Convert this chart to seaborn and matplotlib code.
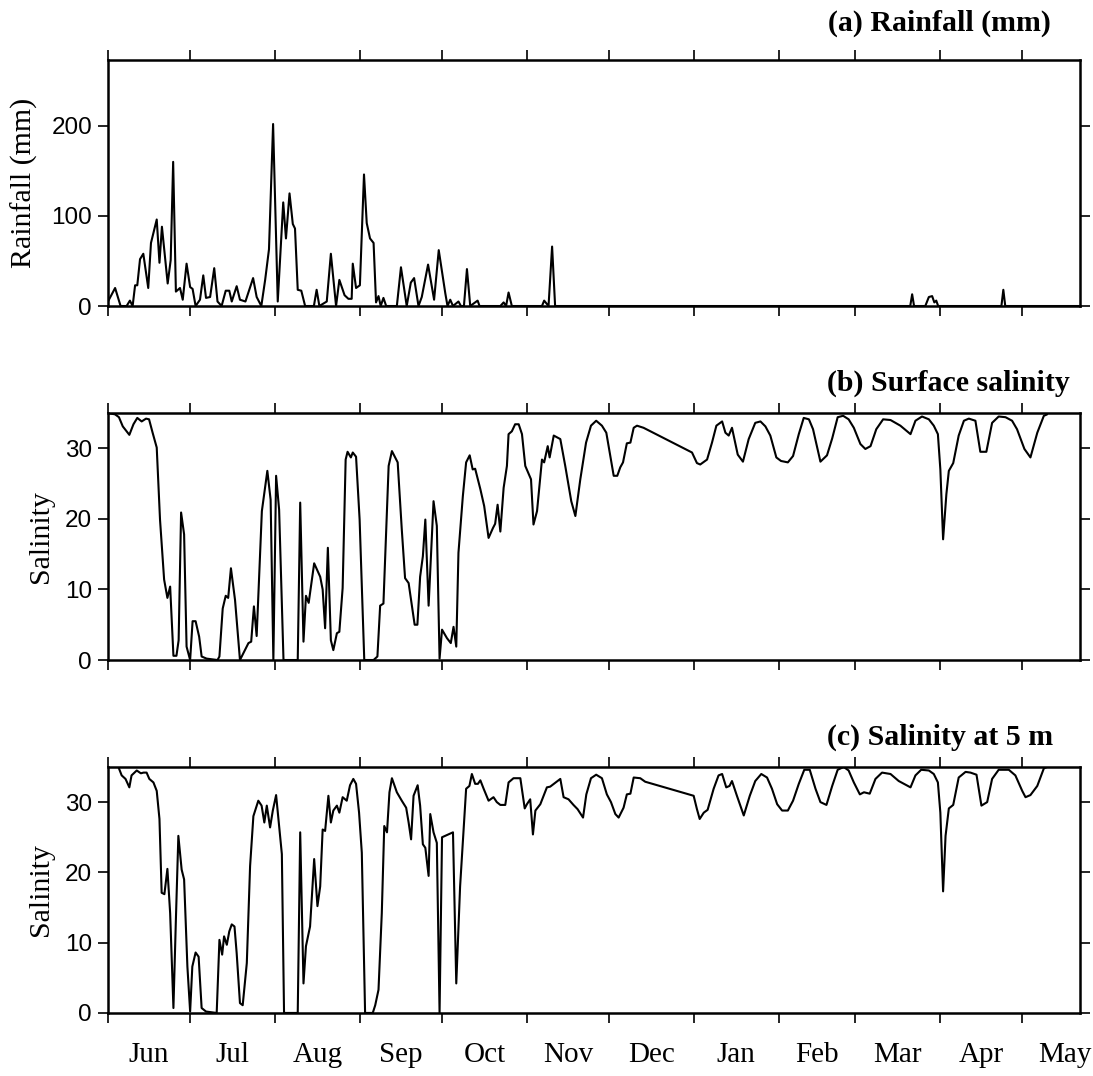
import numpy as np
import pandas as pd
import matplotlib
matplotlib.use("Agg")
import matplotlib.pyplot as plt
import seaborn as sns

# month axis (days counted from 1 June)
months = ["Jun", "Jul", "Aug", "Sep", "Oct", "Nov", "Dec", "Jan", "Feb", "Mar", "Apr", "May"]
month_start = [0, 30, 61, 92, 122, 153, 183, 214, 245, 273, 304, 334, 365]

# (a) daily rainfall
rain_day = [0, 2.6, 4.6, 6.8, 8, 9, 9.9, 10.7, 11.7, 12.9, 14.7, 15.7, 17.8, 18.8, 19.7, 21.8, 22.9,
            23.8, 24.8, 26.3, 27.3, 28.7, 30, 30.9, 32, 33.6, 34.8, 35.8, 37.3, 38.8, 40, 41.5, 43,
            44.3, 45.2, 47, 48.2, 50.2, 53, 54.3, 56, 57.4, 58.8, 60.3, 62, 64, 65, 66.3, 67.5, 68.3,
            69.3, 70.6, 72, 75.2, 76.2, 77.2, 79.9, 81.4, 83.3, 84.5, 86.4, 87.8, 89, 89.4, 90.6, 92,
            93.5, 94.5, 95.7, 97, 97.9, 98.8, 99.6, 100.6, 101.6, 105.5, 107, 109.1, 110.6, 111.8,
            113.4, 114.6, 116.9, 119.1, 120.8, 123.2, 124, 125, 126, 128, 128.9, 130, 131.1, 132.3,
            135, 135.7, 143.3, 144.5, 145.4, 146.3, 147.5, 158.5, 159.3, 160.9, 162.2, 163.3, 293,
            293.7, 294.4, 298.5, 299.8, 301, 301.8, 302.5, 303.2, 326.3, 327, 327.7, 355]
rain_mm = [5, 20, 0, 0, 6, 0, 23, 23, 52, 58, 20, 70, 96, 48, 88, 25, 51,
           160, 16, 20, 7, 47, 21, 19, 0, 7, 34, 9, 10, 42, 5, 0, 17,
           17, 5, 22, 7, 5, 31, 10, 0, 29, 63, 202, 5, 115, 75, 125, 91, 86,
           18, 17, 0, 0, 18, 0, 5, 58, 0, 29, 12, 8, 8, 47, 20, 23,
           146, 92, 75, 70, 4, 11, 0, 9, 0, 0, 43, 0, 26, 31,
           0, 10, 46, 7, 62, 14, 0, 7, 0, 5, 0, 0, 41, 0,
           6, 0, 0, 4, 0, 15, 0, 0, 6, 0, 66, 0, 0,
           13, 0, 0, 10, 11, 4, 6, 0, 0, 18, 0, 0]

# (b) surface salinity
surf_day = [0, 2.6, 4, 5.4, 7.8, 9.3, 10.7, 12.3, 13.9, 15, 16.3, 17.8, 19, 20.5, 21.7, 22.7, 23.9,
            25, 25.8, 26.7, 27.8, 28.7, 30, 30.9, 32, 33.3, 34.2, 36, 40, 40.7, 41.9, 43, 43.9,
            44.9, 46.4, 48.2, 51.3, 52.3, 53.3, 54.3, 56.2, 58.2, 59.4, 60.4, 61.4, 62.5, 64.1,
            69.3, 70.2, 71.4, 72.3, 73.3, 75.3, 77.5, 78.4, 79.3, 80.3, 81.4, 82.3, 83.6, 84.5,
            85.7, 86.8, 87.5, 88.7, 89.4, 90.6, 91.9, 93.6, 97, 98.4, 99.4, 100.6, 102.5, 103.7,
            105.8, 107.3, 108.5, 109.8, 112, 113, 114, 115, 115.9, 117.1, 118.9, 120.1, 121.1,
            122, 123.8, 125.2, 126.2, 127.2, 128, 129.6, 130.8, 132.1, 133.2, 134.1, 136, 137.4,
            139, 140.6, 141.4, 142.3, 143.3, 144.5, 145.7, 146.3, 147.5, 148.7, 150, 151.2, 152.4,
            154.5, 155.4, 156.7, 158.5, 159.3, 160.6, 161.3, 162.8, 165.2, 167, 169.2, 170.7,
            172.5, 174.6, 176.4, 178.3, 180.4, 182, 183.7, 184.7, 186, 187.1, 188.1, 189.5,
            190.8, 192, 193.2, 195.6, 213.3, 215.1, 216.3, 218.8, 220.6, 222.2, 224.3, 225.5,
            226.7, 227.9, 230, 231.9, 234, 236.4, 238.3, 240.1, 241.9, 244.1, 245.8, 248.3,
            250.2, 252.3, 254.1, 256, 257.5, 260.2, 262.6, 264.5, 266.5, 268.5, 270.5, 272.4,
            274.8, 276.6, 278.5, 280.6, 283.1, 285.8, 289.4, 293.1, 294.9, 297.3, 299.8, 301.6,
            303.1, 304, 305, 306.2, 307.1, 308.7, 310.7, 312.6, 314.4, 316.8, 318.6, 320.8,
            322.9, 325.3, 327.8, 330.2, 332, 334.7, 336.9, 339.4, 341.8, 343]
surf_sal = [35, 34.8, 34.4, 33.1, 31.9, 33.4, 34.3, 33.8, 34.2, 34.1, 32.2, 30.1, 19.9, 11.4, 8.8, 10.4, 0.6,
            0.6, 2.8, 20.9, 17.8, 1.9, 0, 5.5, 5.5, 3.3, 0.5, 0.2, 0, 0.5, 7.3, 9.1, 8.8,
            13, 8.5, 0, 2.4, 2.6, 7.6, 3.4, 21.1, 26.8, 22.7, 0, 26.1, 21.3, 0,
            0, 22.3, 2.6, 9.1, 8.1, 13.7, 11.8, 10, 4.5, 15.9, 2.8, 1.4, 3.8, 4,
            10.2, 28.4, 29.5, 28.7, 29.4, 28.8, 19.9, 0, 0, 0.5, 7.7, 8, 27.5, 29.6,
            28, 18.5, 11.6, 10.9, 5, 5, 11.8, 14.7, 19.9, 7.7, 22.5, 19, 0.2,
            4.3, 3.1, 2.4, 4.7, 1.9, 15.2, 23.2, 28, 29, 27, 27.1, 24.2, 21.8,
            17.3, 18.7, 19.3, 22, 18.2, 24.4, 27.5, 32, 32.4, 33.4, 33.4, 32, 27.5,
            25.6, 19.2, 21.1, 28.4, 28, 30.3, 28.7, 31.8, 31.3, 27.5, 22.5, 20.4,
            25.6, 30.8, 33.2, 33.9, 33.2, 32.2, 28.4, 26.1, 26.1, 27.3, 28, 30.7,
            30.8, 32.9, 33.2, 32.9, 29.4, 27.9, 27.7, 28.4, 30.8, 33.2, 33.8, 32.2,
            31.8, 32.9, 29.1, 28.1, 31.3, 33.6, 33.8, 33.1, 31.8, 28.7, 28.2, 28,
            28.9, 32, 34.3, 34.1, 32.7, 28.1, 29, 31.4, 34.4, 34.6, 34.1, 32.9,
            30.6, 29.9, 30.3, 32.7, 34.1, 34, 33.2, 32, 33.9, 34.5, 34.1, 33.2,
            32, 27, 17.1, 23.5, 26.8, 27.9, 31.8, 33.9, 34.2, 33.9, 29.5, 29.5,
            33.6, 34.5, 34.4, 33.9, 32.7, 29.9, 28.7, 32.2, 34.6, 34.8]

# (c) salinity at 5 m
deep_day = [0, 3.8, 5, 6.4, 7.8, 8.6, 10.5, 12, 13, 14.1, 15.1, 16.6, 17.8, 18.8, 19.6, 20.6, 21.7,
            22.7, 23.9, 24.8, 25.7, 26.9, 27.8, 29, 30, 30.8, 32, 33.1, 34.2, 35.8, 39.7, 40.7,
            41.7, 42.4, 43.4, 44.3, 45.2, 46.2, 47, 48.2, 49.2, 50.7, 51.9, 53.1, 54.9, 56.1,
            57.1, 58, 59.2, 60.2, 61.4, 63.5, 64.3, 69.3, 70.2, 71.4, 72.3, 73.8, 75.3, 76.5,
            77.5, 78.4, 79.3, 80.5, 81.4, 82.3, 83.6, 84.5, 85.7, 87.2, 88.4, 89.6, 90.6, 91.7,
            92.7, 93.9, 96.7, 97.6, 98.8, 100, 100.9, 101.9, 102.8, 103.7, 105.5, 107.3, 108.9,
            109.8, 110.7, 111.6, 113.1, 114, 115, 115.9, 117.1, 117.7, 118.9, 120.1, 121.1, 122,
            126, 127.2, 128.6, 129.9, 130.8, 132, 132.9, 134.1, 135.1, 136, 137.2, 139, 140.8,
            142, 143.3, 145.1, 146.3, 148.1, 150.6, 152.2, 153, 154.2, 155.2, 156.1, 157.9,
            160.3, 161.5, 165.2, 166.4, 168.2, 170, 171.5, 173.5, 174.7, 176.4, 178.3, 180.4,
            182.2, 183.7, 185.3, 186.5, 188.3, 189.5, 190.8, 192, 194.4, 196.2, 213.9, 215.1,
            216.1, 217.6, 219, 221.2, 223, 224.3, 225.8, 227, 227.9, 229.7, 232.2, 234.4, 236.4,
            238.6, 240.7, 242.5, 244.4, 246.2, 248.3, 250.2, 252.3, 254.3, 256.3, 258.4, 260.2,
            262.4, 264.5, 266.5, 268.7, 270.5, 272.4, 274.6, 276.1, 278.2, 280.3, 282.7, 285.8,
            288.8, 293.1, 294.9, 297, 299.8, 301.6, 303.1, 304, 305, 305.9, 307.1, 308.7, 310.7,
            313.2, 315, 317.2, 319, 321.1, 322.9, 325.3, 329, 331.4, 333.9, 335.1, 336.9, 339.4,
            341.8, 343]
deep_sal = [35, 35, 33.8, 33.3, 32.1, 33.8, 34.5, 34.1, 34.2, 34.2, 33.3, 32.8, 31.6, 27.6, 17.1, 16.9, 20.5,
            14.2, 0.7, 13.3, 25.2, 20.4, 19, 6.6, 0.2, 6.6, 8.6, 8, 0.7, 0.2, 0, 10.4,
            8.3, 10.9, 9.7, 11.6, 12.6, 12.3, 8.5, 1.4, 1.1, 7.1, 20.9, 28, 30.2, 29.5,
            27.1, 29.5, 26.4, 28.8, 31, 22.6, 0, 0, 25.7, 4.2, 9.5, 12.3, 21.9, 15.2,
            18, 26.1, 25.9, 30.9, 27.1, 28.8, 29.5, 28.5, 30.7, 30.2, 32.4, 33.3, 32.6, 28.5,
            22.8, 0, 0, 1.1, 3.3, 14.2, 26.6, 25.7, 31.4, 33.4, 31.4, 30.2, 29.2,
            27.1, 24.7, 30.9, 32.4, 29.5, 24, 23.5, 19.5, 28.3, 25.7, 24.2, 0, 25,
            25.7, 4.2, 18, 26.1, 31.9, 32.3, 34, 32.6, 32.6, 33.1, 31.9, 30.2, 30.7,
            30, 29.6, 29.6, 32.8, 33.4, 33.4, 29.1, 29.7, 30.4, 25.4, 28.8, 29.7,
            32.1, 32.2, 33.3, 30.7, 30.4, 29.6, 29, 27.8, 31.1, 33.4, 33.9, 33.4,
            31.1, 30, 28.3, 27.8, 29.2, 31.1, 31.2, 33.5, 33.4, 32.9, 30.9, 29,
            27.6, 28.5, 28.9, 31.9, 33.8, 34, 32.1, 32.3, 33, 30.9, 28.1, 30.9, 33,
            34, 33.5, 31.9, 29.7, 28.8, 28.8, 30.2, 32.6, 34.6, 34.6, 31.9, 30,
            29.6, 32.3, 34.6, 35, 34.5, 32.8, 31.1, 31.4, 31.2, 33.3, 34.2, 34,
            33, 32.1, 33.8, 34.6, 34.5, 34, 32.8, 28.5, 17.3, 25.2, 29.1, 29.6, 33.5,
            34.3, 34.2, 33.9, 29.5, 30, 33.3, 34.6, 34.6, 33.8, 31.6, 30.7, 31, 32.3,
            34.8, 35]

panels = [
    (rain_day, rain_mm, "Rainfall (mm)", "(a) Rainfall (mm)", [0, 100, 200], 273),
    (surf_day, surf_sal, "Salinity", "(b) Surface salinity", [0, 10, 20, 30], 35),
    (deep_day, deep_sal, "Salinity", "(c) Salinity at 5 m", [0, 10, 20, 30], 35),
]

sns.set_style("ticks")
plt.rcParams['font.family'] = ['Liberation Sans', 'DejaVu Sans']
plt.rcParams.update({"text.color": "black", "axes.labelcolor": "black",
                     "xtick.color": "black", "ytick.color": "black",
                     "axes.edgecolor": "black"})
serif = ['Liberation Serif', 'DejaVu Serif']

fig = plt.figure(figsize=(10.93, 10.76), dpi=100)
boxes = [(0.0988, 0.7156, 0.8893, 0.2286),
         (0.0988, 0.3866, 0.8893, 0.2296),
         (0.0988, 0.0586, 0.8893, 0.2286)]
title_pos = [(1051, 23), (1070, 383), (1053, 737)]
ylab_x = [-0.072, -0.056, -0.056]

month_mid = [(a + b) / 2 for a, b in zip(month_start[:-1], month_start[1:])]

for i, (days, vals, ylab, title, yt, ytop) in enumerate(panels):
    ax = fig.add_axes(boxes[i])
    df = pd.DataFrame({"day": days, "value": vals})
    sns.lineplot(data=df, x="day", y="value", ax=ax, color="black", linewidth=1.5,
                 sort=False, estimator=None)
    ax.set_xlim(0, 355)
    ax.set_ylim(0, ytop)
    ax.set_yticks(yt)
    ax.set_xticks(month_start[:-1])
    ax.set_xticks(month_mid, minor=True)
    ax.tick_params(which="major", direction="out", length=7.5, width=1.2,
                   top=True, right=True, bottom=True, left=True,
                   labelbottom=False, labeltop=False, labelright=False,
                   labelsize=17.5, pad=4)
    ax.tick_params(which="minor", length=0, top=False)
    if i == 2:
        ax.set_xticklabels(months, minor=True, fontfamily=serif, fontsize=21)
        ax.tick_params(which="minor", labelbottom=True, pad=21)
    for s in ax.spines.values():
        s.set_visible(True)
        s.set_linewidth(1.8)
        s.set_color("black")
    ax.set_xlabel("")
    ax.set_ylabel(ylab, fontfamily=serif, fontsize=21.5)
    ax.yaxis.set_label_coords(ylab_x[i], 0.5)
    fig.text(title_pos[i][0] / 1093, 1 - title_pos[i][1] / 1076, title,
             ha="right", va="center", fontsize=21.5, fontweight="bold", fontfamily=serif)

fig.savefig("out.png", dpi=100)
